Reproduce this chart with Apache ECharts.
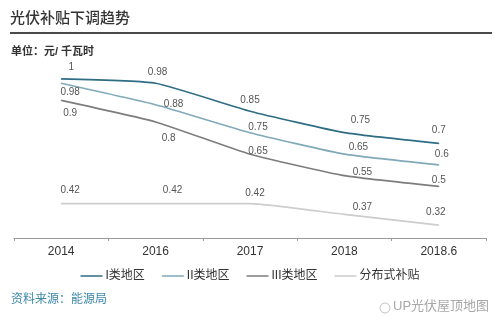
<!DOCTYPE html>
<html>
<head>
<meta charset="utf-8">
<script src="https://cdn.jsdelivr.net/npm/echarts@6/dist/echarts.min.js"></script>
<style>
html,body{margin:0;padding:0;background:#fff;}
#c{width:500px;height:328px;}
</style>
</head>
<body>
<div id="c"></div>
<script>
var categories = ['2014', '2016', '2017', '2018', '2018.6'];
var seriesNames = ['I类地区', 'II类地区', 'III类地区', '分布式补贴'];
var region1 = [1, 0.98, 0.85, 0.75, 0.7];
var region2 = [0.98, 0.88, 0.75, 0.65, 0.6];
var region3 = [0.9, 0.8, 0.65, 0.55, 0.5];
var distributed = [0.42, 0.42, 0.42, 0.37, 0.32];

var seriesValues = [region1, region2, region3, distributed];
var colors = ['#2f6d84', '#80a9b9', '#7d7d7d', '#cdcdcd'];
// label offsets (style only)
var labelOffsets = [
  [[10, -12], [2, -11], [0, -11], [16, -12], [0, -13]],
  [[9, 9], [18, 0], [8, -5], [14, -7], [3, -11]],
  [[9, 13], [13, 16], [8, -3], [18, -3], [0, -6]],
  [[9, -13], [17, -13], [5, -10], [18, -7], [-3, -13]]
];

var FONT = '"Liberation Sans", "Noto Sans CJK SC", sans-serif';
var chart = echarts.init(document.getElementById('c'), null, {renderer: 'canvas'});

var series = seriesValues.map(function (vals, si) {
  return {
    name: seriesNames[si],
    type: 'line',
    smooth: 0.15,
    symbol: 'circle',
    symbolSize: 1,
    lineStyle: {width: 1.6, color: colors[si]},
    itemStyle: {color: colors[si]},
    emphasis: {disabled: true},
    data: vals.map(function (v, i) {
      return {
        value: v,
        label: {offset: labelOffsets[si][i]}
      };
    }),
    label: {
      show: true,
      position: 'inside',
      fontSize: 10,
      color: '#555',
      fontFamily: FONT
    }
  };
});

chart.setOption({
  backgroundColor: '#fff',
  animation: false,
  color: colors,
  textStyle: {fontFamily: FONT},
  grid: {left: 14, right: 14, top: 66, bottom: 90, containLabel: false},
  xAxis: {
    type: 'category',
    data: categories,
    boundaryGap: true,
    axisLine: {lineStyle: {color: '#9a9a9a', width: 1}},
    axisTick: {show: true, length: 3, lineStyle: {color: '#9a9a9a'}},
    axisLabel: {color: '#333', fontSize: 12, margin: 8, fontFamily: FONT}
  },
  yAxis: {
    type: 'value',
    min: 0.26,
    max: 1.06,
    show: false,
    splitLine: {show: false}
  },
  legend: {
    data: seriesNames,
    left: 'center',
    top: 265,
    icon: 'rect',
    itemWidth: 22,
    itemHeight: 1.5,
    itemGap: 17,
    textStyle: {color: '#333', fontSize: 12, fontFamily: FONT, padding: [0, 0, 0, -2]}
  },
  graphic: [
    {type: 'text', left: 10, top: 11, style: {text: '光伏补贴下调趋势', fontSize: 15, fontWeight: 500, fill: '#333', fontFamily: FONT}},
    {type: 'line', shape: {x1: 10, y1: 33, x2: 492, y2: 33}, style: {stroke: '#4a4a4a', lineWidth: 2}},
    {type: 'text', left: 11, top: 46, style: {text: '单位：元/ 千瓦时', fontSize: 11, fontWeight: 'bold', fill: '#333', fontFamily: FONT}},
    {type: 'text', left: 11, top: 294, style: {text: '资料来源：能源局', fontSize: 12, fill: '#3d88aa', fontFamily: FONT}},
    {type: 'circle', shape: {cx: 385, cy: 308, r: 5}, style: {fill: 'none', stroke: '#c4c4c4', lineWidth: 1}},
    {type: 'text', left: 393, top: 300, style: {text: 'UP光伏屋顶地图', fontSize: 13, fill: '#a8a8a8', fontFamily: FONT}}
  ],
  series: series
});
</script>
</body>
</html>
